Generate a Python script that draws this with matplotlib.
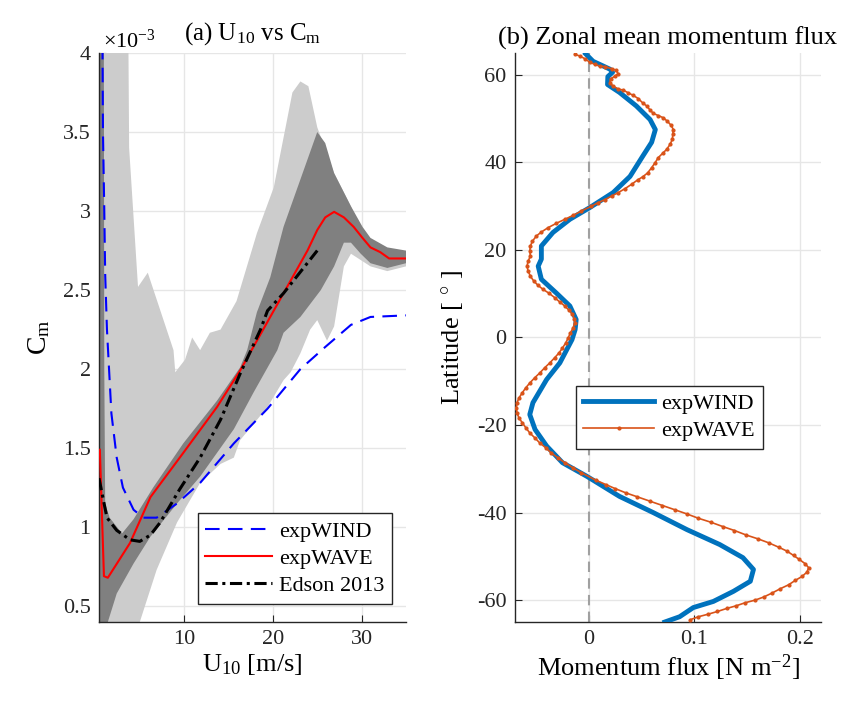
import numpy as np
import matplotlib
matplotlib.use("Agg")
import matplotlib.pyplot as plt

plt.rcParams['font.family'] = ['Liberation Serif', 'DejaVu Serif']
plt.rcParams['mathtext.fontset'] = 'custom'
plt.rcParams['mathtext.rm'] = 'Liberation Serif'
plt.rcParams['mathtext.it'] = 'Liberation Serif:italic'
plt.rcParams['axes.unicode_minus'] = False

# ---- panel (a): U10 vs Cm (values in 1e-3) ----
# light gray band (outer spread)
light_up_u = [0.4, 3.6, 3.7, 3.8, 4.8, 5.9, 8.8, 9.0, 10.1, 10.9, 11.8, 12.9, 14.1,
              15.9, 18.2, 20.1, 22.2, 23.1, 24.0, 25.0, 26.9, 28.8, 29.9, 31.0, 32.9, 35.0]
light_up_c = [6.0, 6.0, 4.2, 3.4, 2.52, 2.61, 2.12, 1.98, 2.06, 2.2, 2.12, 2.23, 2.25,
              2.43, 2.86, 3.15, 3.75, 3.82, 3.79, 3.53, 3.24, 3.03, 2.88, 2.82, 2.75, 2.74]
light_lo_u = [0.4, 4.5, 5.0, 6.9, 9.2, 11.8, 14.1, 15.6, 16.3, 19.4, 21.2, 22.0, 23.1,
              24.2, 25.0, 26.1, 26.9, 28.0, 28.8, 29.9, 31.0, 32.9, 35.0]
light_lo_c = [0.2, 0.2, 0.4, 0.73, 1.03, 1.28, 1.4, 1.44, 1.55, 1.76, 1.93, 1.98, 2.1,
              2.25, 2.31, 2.18, 2.27, 2.65, 2.73, 2.69, 2.65, 2.62, 2.65]
# dark gray band (inner spread)
dark_up_u = [0.4, 0.9, 1.0, 1.1, 1.6, 3.0, 4.3, 6.5, 9.9, 13.7, 16.3, 17.1, 18.2, 19.7,
             21.2, 23.1, 25.0, 25.9, 26.9, 28.8, 30.1, 31.0, 32.9, 35.0]
dark_up_c = [6.0, 6.0, 2.0, 1.15, 1.06, 0.96, 1.05, 1.25, 1.53, 1.8, 2.01, 2.12, 2.36, 2.58,
             2.9, 3.2, 3.5, 3.43, 3.24, 3.03, 2.9, 2.83, 2.77, 2.75]
dark_lo_u = [0.4, 1.3, 1.4, 2.4, 4.3, 6.2, 9.2, 11.8, 15.6, 17.8, 20.5, 21.2, 23.1, 25.4,
             26.9, 28.0, 28.8, 29.9, 31.0, 32.9, 35.0]
dark_lo_c = [0.2, 0.2, 0.4, 0.58, 0.77, 0.94, 1.15, 1.32, 1.62, 1.85, 2.12, 2.23, 2.33, 2.5,
             2.65, 2.8, 2.8, 2.73, 2.67, 2.64, 2.67]

wind_u = [0.75, 0.85, 1.0, 1.1, 1.3, 1.8, 2.4, 3.1, 4.3, 5.4, 6.9, 9.2, 11.8, 15.6, 19.4,
          23.1, 25.9, 28.8, 31.0, 35.0]
wind_c = [4.5, 3.5, 3.0, 2.6, 2.25, 1.72, 1.44, 1.25, 1.11, 1.06, 1.06, 1.15, 1.28, 1.53,
          1.75, 2.0, 2.14, 2.28, 2.33, 2.34]
wave_u = [0.5, 0.96, 1.4, 3.9, 6.2, 9.9, 13.7, 16.3, 18.9, 21.2, 22.0, 23.9, 25.0, 25.9,
          26.9, 28.0, 29.1, 30.1, 31.0, 32.1, 33.1, 35.0]
wave_c = [1.49, 0.69, 0.68, 0.9, 1.19, 1.47, 1.76, 1.99, 2.25, 2.48, 2.56, 2.75, 2.88,
          2.96, 2.995, 2.96, 2.9, 2.83, 2.77, 2.74, 2.70, 2.70]
edson_u = [0.4, 1.3, 2.4, 3.9, 5.0, 6.2, 7.3, 9.5, 11.8, 14.1, 16.3, 18.6, 19.4, 21.2, 25.0]
edson_c = [1.31, 1.06, 0.98, 0.92, 0.91, 0.95, 1.03, 1.24, 1.44, 1.68, 1.97, 2.25, 2.37,
           2.48, 2.75]

# ---- panel (b): zonal mean momentum flux ----
wind_flux = [-0.003, 0.004, 0.020, 0.0225, 0.018, 0.0177, 0.029, 0.045, 0.058, 0.063,
             0.0595, 0.051, 0.039, 0.023, 0.001, -0.018, -0.034, -0.045, -0.045, -0.048,
             -0.045, -0.031, -0.018, -0.012, -0.013, -0.016, -0.0275, -0.040, -0.053,
             -0.056, -0.051, -0.040, -0.025, -0.002, 0.029, 0.061, 0.093, 0.124, 0.146,
             0.156, 0.153, 0.137, 0.118, 0.099, 0.086, 0.072]
wind_lat = [64.8, 63.1, 61.3, 60.6, 59.6, 57.8, 56.0, 52.9, 49.8, 47.5, 44.6, 41.4, 36.8,
            33.1, 29.7, 27.0, 24.0, 20.9, 17.9, 16.3, 13.3, 10.2, 7.2, 4.1, 1.8, -0.5, -5.8,
            -9.6, -14.9, -17.6, -21.0, -24.8, -28.6, -31.7, -36.3, -40.0, -43.9, -47.3,
            -50.3, -53.0, -55.7, -58.0, -60.3, -61.7, -63.8, -65.0]
wave_flux = [-0.0133, -0.0085, -0.0038, 0.0009, 0.0057, 0.0104, 0.0152, 0.0215, 0.0256,
             0.0278, 0.0247, 0.0206, 0.0199, 0.0231, 0.0278, 0.0326, 0.0373, 0.0421,
             0.0468, 0.0510, 0.0548, 0.0579, 0.0611, 0.0658, 0.0706, 0.0744, 0.0779,
             0.0801, 0.0795, 0.0792, 0.0769, 0.0738, 0.0700, 0.0658, 0.0627, 0.0595,
             0.0557, 0.0510, 0.0462, 0.0405, 0.0342, 0.0278, 0.0215, 0.0152, 0.0088,
             0.0025, -0.0070, -0.0149, -0.0228, -0.0307, -0.0386, -0.0450, -0.0497,
             -0.0535, -0.0554, -0.0560, -0.0554, -0.0576, -0.0586, -0.0576, -0.0554,
             -0.0522, -0.0481, -0.0434, -0.0377, -0.0323, -0.0275, -0.0228, -0.0187,
             -0.0155, -0.0139, -0.0133, -0.0149, -0.0174, -0.0196, -0.0218, -0.0250,
             -0.0282, -0.0323, -0.0370, -0.0418, -0.0465, -0.0513, -0.0560, -0.0598,
             -0.0630, -0.0662, -0.0681, -0.0687, -0.0681, -0.0662, -0.0630, -0.0598,
             -0.0560, -0.0513, -0.0465, -0.0408, -0.0355, -0.0292, -0.0228, -0.0149,
             -0.0070, 0.0066, 0.0161, 0.0247, 0.0351, 0.0459, 0.0579, 0.0696, 0.0817,
             0.0928, 0.1038, 0.1156, 0.1270, 0.1380, 0.1488, 0.1602, 0.1703, 0.1798,
             0.1877, 0.1940, 0.1994, 0.2051, 0.2083, 0.2067, 0.2020, 0.1956, 0.1893,
             0.1814, 0.1735, 0.1656, 0.1576, 0.1481, 0.1396, 0.1307, 0.1218, 0.1133,
             0.1038, 0.0959]
wave_lat = [64.7, 64.3, 63.7, 62.9, 62.4, 62.0, 61.9, 61.4, 61.1, 60.3, 59.7, 59.1, 58.2,
            57.4, 56.8, 56.5, 55.9, 55.3, 54.6, 53.6, 52.9, 52.0, 51.2, 50.7, 50.2, 49.4,
            48.5, 47.5, 46.4, 45.3, 44.1, 43.0, 42.1, 41.1, 39.9, 38.8, 37.6, 36.7, 36.0,
            35.0, 34.0, 33.1, 32.3, 31.5, 30.8, 30.0, 28.9, 27.9, 27.0, 26.1, 25.1, 24.1,
            23.2, 22.0, 20.9, 19.7, 18.6, 17.4, 16.3, 15.2, 14.0, 12.9, 11.9, 11.0, 10.1,
            9.1, 8.1, 7.2, 6.2, 5.3, 4.3, 3.4, 2.2, 1.1, -0.1, -1.2, -2.4, -3.5, -4.6,
            -5.8, -6.9, -8.1, -9.2, -10.4, -11.5, -12.6, -13.8, -14.9, -16.1, -17.2,
            -18.4, -19.5, -20.6, -21.8, -22.9, -24.1, -25.2, -26.4, -27.5, -28.6, -29.8,
            -30.9, -32.6, -33.6, -34.5, -35.5, -36.4, -37.4, -38.4, -39.4, -40.3, -41.3,
            -42.2, -43.2, -44.1, -45.1, -46.0, -46.9, -47.9, -48.8, -49.8, -50.7, -51.7,
            -52.6, -53.6, -54.6, -55.5, -56.5, -57.4, -58.4, -59.3, -60.0, -60.6, -61.3,
            -61.9, -62.6, -63.2, -63.8, -64.5]

TICK = 16
LABEL = 19
TITLE = 19
LEG = 16


def style_axes(ax):
    ax.grid(True, color='#e6e6e6', linewidth=1.0)
    ax.set_axisbelow(True)
    for side in ['top', 'right']:
        ax.spines[side].set_visible(False)
    for side in ['left', 'bottom']:
        ax.spines[side].set_color('#262626')
        ax.spines[side].set_linewidth(1.0)
    ax.tick_params(direction='in', length=5, colors='#262626', labelsize=TICK,
                   top=False, right=False, pad=6)


fig = plt.figure(figsize=(8.43, 7.01), dpi=100)
ax1 = fig.add_axes([0.1174, 0.1127, 0.3642, 0.8117])
ax2 = fig.add_axes([0.6109, 0.1127, 0.3630, 0.8117])

# panel (a)
ax1.fill(np.r_[light_up_u, light_lo_u[::-1]], np.r_[light_up_c, light_lo_c[::-1]],
         color='#cccccc', linewidth=0, zorder=1)
ax1.fill(np.r_[dark_up_u, dark_lo_u[::-1]], np.r_[dark_up_c, dark_lo_c[::-1]],
         color='#808080', linewidth=0, zorder=2)
ax1.plot(wind_u, wind_c, color='#0000ff', linewidth=1.5, dashes=(7, 4), label='expWIND', zorder=3)
ax1.plot(wave_u, wave_c, color='#ff0000', linewidth=1.5, label='expWAVE', zorder=4)
ax1.plot(edson_u, edson_c, color='black', linewidth=2.2, dashes=(4, 1.5, 1, 1.5),
         label='Edson 2013', zorder=5)
ax1.set_xlim(0.4, 35)
ax1.set_ylim(0.4, 4)
ax1.set_xticks([10, 20, 30])
ax1.set_yticks([0.5, 1, 1.5, 2, 2.5, 3, 3.5, 4])
ax1.set_yticklabels(['0.5', '1', '1.5', '2', '2.5', '3', '3.5', '4'])
style_axes(ax1)
ax1.set_xlabel(r'U$_{10}$ [m/s]', fontsize=LABEL, labelpad=2)
ax1.set_ylabel(r'C$_{\mathrm{m}}$', fontsize=LABEL + 1, labelpad=8)
ax1.set_title(r'(a) U$_{10}$ vs C$_{\mathrm{m}}$', fontsize=TITLE - 1, pad=10)
ax1.text(0.013, 1.0, r'$\times$10$^{-3}$', transform=ax1.transAxes, fontsize=TICK,
         ha='left', va='bottom')
leg1 = ax1.legend(loc='lower right', bbox_to_anchor=(0.954, 0.032), fontsize=LEG,
                  fancybox=False, framealpha=1, edgecolor='#262626', handlelength=3.0,
                  borderpad=0.35, labelspacing=0.3, handletextpad=0.3, borderaxespad=0)
leg1.get_frame().set_linewidth(1.0)

# panel (b)
ax2.axvline(0, color='#a0a0a0', linewidth=1.5, dashes=(5, 3), zorder=2)
ax2.plot(wind_flux, wind_lat, color='#0072bd', linewidth=3.5, label='expWIND', zorder=3)
ax2.plot(wave_flux, wave_lat, color='#d95319', linewidth=1.2, marker='.', markersize=4,
         label='expWAVE', zorder=4)
ax2.set_xlim(-0.07, 0.22)
ax2.set_ylim(-65, 65)
ax2.set_xticks([0, 0.1, 0.2])
ax2.set_xticklabels(['0', '0.1', '0.2'])
ax2.set_yticks([-60, -40, -20, 0, 20, 40, 60])
style_axes(ax2)
ax2.set_xlabel(r'Momentum flux [N m$^{-2}$]', fontsize=LABEL, labelpad=2)
ax2.set_ylabel(r'Latitude [ $^{\circ}$ ]', fontsize=LABEL, labelpad=8)
ax2.set_title('(b) Zonal mean momentum flux', fontsize=TITLE, pad=6)
leg2 = ax2.legend(loc='lower left', bbox_to_anchor=(0.198, 0.304), fontsize=LEG,
                  fancybox=False, framealpha=1, edgecolor='#262626', handlelength=3.2,
                  borderpad=0.35, labelspacing=0.3, handletextpad=0.3, borderaxespad=0)
leg2.get_frame().set_linewidth(1.0)

fig.savefig('out.png', dpi=100)
